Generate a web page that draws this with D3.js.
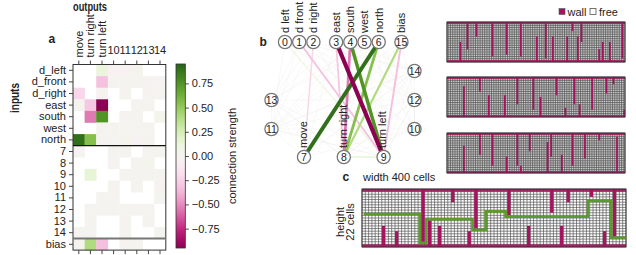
<!DOCTYPE html>
<html><head><meta charset="utf-8">
<script src="https://cdn.jsdelivr.net/npm/d3@7"></script>
<style>
body{margin:0;background:#fff}
svg{display:block}
text{font-family:"Liberation Sans",Arial,Helvetica,sans-serif;fill:#222}
</style>
</head><body>
<svg id="c" width="636" height="255"></svg>
<script>
// ---------- data ----------
const outputs = ["move","turn right","turn left","10","11","12","13","14"];
const inputs = ["d_left","d_front","d_right","east","south","west","north","7","8","9","10","11","12","13","14","bias"];
// connection strengths (row = input, col = output); null = no connection
const weights = [
  [null, null, 0.12, -0.03, -0.03, 0.01, null, null],
  [null, null, -0.32, 0.0, 0.0, 0.01, -0.02, -0.02],
  [-0.22, null, -0.01, null, 0.0, null, -0.01, 0.0],
  [0.01, -0.30, -0.95, null, null, 0.0, 0.0, null],
  [null, -0.55, 0.75, null, -0.02, 0.0, null, 0.03],
  [null, null, 0.0, 0.0, 0.0, 0.0, 0.0, null],
  [0.90, 0.55, 0.0, 0.0, 0.02, -0.02, 0.0, null],
  [0.0, null, null, 0.0, 0.0, null, 0.0, 0.0],
  [null, null, null, -0.02, null, 0.0, 0.03, null],
  [null, 0.15, null, null, 0.0, 0.0, 0.0, 0.0],
  [null, null, null, 0.0, null, 0.0, null, -0.01],
  [null, null, 0.0, 0.0, null, null, null, 0.0],
  [null, 0.0, 0.0, 0.0, 0.0, 0.0, 0.0, null],
  [null, 0.0, null, null, 0.0, null, 0.0, null],
  [0.0, 0.0, null, null, 0.0, null, null, 0.0],
  [0.01, 0.40, -0.33, null, 0.0, 0.0, null, null]
];
const cbTicks = [-0.75, -0.5, -0.25, 0, 0.25, 0.5, 0.75];
const outputNodeIds = [7, 8, 9, 10, 11, 12, 13, 14];
const topNodeIds = [0, 1, 2, 3, 4, 5, 6, 15];
const topNodeLabels = ["d left","d front","d right","east","south","west","north","bias"];
const bottomNodeIds = [7, 8, 9];
const bottomNodeLabels = ["move","turn right","turn left"];
const leftHidden = [13, 11];
const rightHidden = [14, 12, 10];

// mazes: walls = [column, side (t = from top, b = from bottom), length in cells]
const smallCols = 100, mazeRows = 22, bigCols = 80;
const maze1Walls = [[7,"b",11],[11,"t",15],[16,"t",8],[25,"t",19],[33,"t",18],[41,"t",19],[50,"b",14],[55,"t",20],[59,"b",14],[67,"b",14],[70,"t",5],[73,"b",14],[75,"t",11],[85,"b",7],[87,"b",11],[91,"b",11],[98,"t",20]];
const maze2Walls = [[9,"b",17],[18,"t",8],[23,"b",12],[32,"b",12],[39,"t",15],[48,"t",18],[52,"b",11],[61,"t",10],[66,"b",5],[71,"t",15],[74,"b",7],[81,"t",18],[89,"t",9],[93,"t",4],[99,"b",4]];
const maze3Walls = [[9,"b",15],[18,"t",12],[25,"t",18],[33,"b",9],[39,"t",18],[41,"b",4],[46,"t",10],[56,"b",17],[58,"t",13],[64,"b",10],[70,"t",18],[77,"t",14],[85,"t",4],[95,"b",20]];
const bigWalls = [[6,"b",8],[10,"b",6],[18,"t",20],[20,"b",10],[23,"b",8],[27,"t",5],[32,"b",6],[34,"t",15],[44,"t",10],[50,"b",8],[57,"t",9],[60,"b",8],[62,"t",5],[69,"t",3],[73,"b",6],[76,"t",18]];
const bigPath = [[0,9],[17,9],[17,20],[19,20],[19,11],[33,11],[33,15],[37,15],[37,8],[43,8],[43,10],[68,10],[68,4],[75,4],[75,18],[79.6,18]];

// ---------- drawing ----------
const svg = d3.select("#c");
const WALL = "#a5155f";
const color = v => d3.interpolatePiYG((v + 0.95) / 1.9);

// ===== panel a: heatmap =====
const cell = 11.6, hx0 = 73, hy0 = 64.5;
const xB = d3.scaleBand().domain(outputs).range([hx0, hx0 + cell * outputs.length]);
const yB = d3.scaleBand().domain(inputs).range([hy0, hy0 + cell * inputs.length]);
const ga = svg.append("g");
const cells = [];
weights.forEach((row, i) => row.forEach((v, j) => { if (v !== null) cells.push({i, j, v}); }));
ga.selectAll("rect.cell").data(cells).join("rect")
  .attr("x", d => xB(outputs[d.j])).attr("y", d => yB(inputs[d.i]))
  .attr("width", xB.bandwidth() + 0.3).attr("height", yB.bandwidth() + 0.3)
  .attr("fill", d => color(d.v));
ga.append("rect").attr("x", hx0).attr("y", hy0).attr("width", cell * 8).attr("height", cell * 16)
  .attr("fill", "none").attr("stroke", "#333").attr("stroke-width", 1);
ga.append("line").attr("x1", hx0).attr("x2", hx0 + cell * 8)
  .attr("y1", yB("7")).attr("y2", yB("7")).attr("stroke", "#111").attr("stroke-width", 1.3);
ga.append("line").attr("x1", hx0).attr("x2", hx0 + cell * 8)
  .attr("y1", yB("bias")).attr("y2", yB("bias")).attr("stroke", "#777").attr("stroke-width", 2);

const yAx = ga.append("g").attr("transform", `translate(${hx0},0)`)
  .call(d3.axisLeft(yB).tickSize(4).tickPadding(3));
yAx.select(".domain").remove();
yAx.selectAll("text").attr("font-size", 11).attr("font-family", "Liberation Sans, Arial, sans-serif").attr("fill", "#222");
yAx.selectAll("line").attr("stroke", "#444");

const xAxT = ga.append("g").attr("transform", `translate(0,${hy0})`)
  .call(d3.axisTop(xB).tickSize(4).tickFormat(""));
xAxT.select(".domain").remove();
xAxT.selectAll("line").attr("stroke", "#444");
const xAxB = ga.append("g").attr("transform", `translate(0,${hy0 + cell * 16})`)
  .call(d3.axisBottom(xB).tickSize(4).tickFormat(""));
xAxB.select(".domain").remove();
xAxB.selectAll("line").attr("stroke", "#444");

outputs.forEach((o, j) => {
  const cx = xB(o) + xB.bandwidth() / 2;
  if (j < 3) {
    ga.append("text").attr("transform", `translate(${cx},${hy0 - 7}) rotate(-90)`)
      .attr("dy", "0.35em").attr("font-size", 11).text(o);
  } else {
    ga.append("text").attr("x", cx).attr("y", hy0 - 10.5).attr("text-anchor", "middle")
      .attr("font-size", 11).text(o);
  }
});
ga.append("text").attr("x", 73).attr("y", 10.5).attr("font-size", 12).attr("font-weight", "bold")
  .attr("textLength", 34).attr("lengthAdjust", "spacingAndGlyphs").text("outputs");
ga.append("text").attr("transform", "translate(19,113) rotate(-90)").attr("font-size", 12).attr("font-weight", "bold")
  .attr("textLength", 30).attr("lengthAdjust", "spacingAndGlyphs").text("inputs");
ga.append("text").attr("x", 48.5).attr("y", 43).attr("font-size", 12).attr("font-weight", "bold").text("a");

// colorbar
const cbX = 176, cbW = 9.3, cbTop = 64, cbBot = 248;
const cbY = d3.scaleLinear().domain([-0.95, 0.95]).range([cbBot, cbTop]);
const grad = svg.append("defs").append("linearGradient").attr("id", "cbg")
  .attr("x1", 0).attr("x2", 0).attr("y1", 1).attr("y2", 0);
d3.range(0, 1.0001, 0.05).forEach(t => grad.append("stop").attr("offset", t).attr("stop-color", d3.interpolatePiYG(t)));
ga.append("rect").attr("x", cbX).attr("y", cbTop).attr("width", cbW).attr("height", cbBot - cbTop)
  .attr("fill", "url(#cbg)").attr("stroke", "#333").attr("stroke-width", 0.8);
const cbAx = ga.append("g").attr("transform", `translate(${cbX + cbW},0)`)
  .call(d3.axisRight(cbY).tickValues(cbTicks).tickSize(3.5).tickPadding(3).tickFormat(d => d3.format(".2f")(d).replace("-", "\u2212")));
cbAx.select(".domain").remove();
cbAx.selectAll("text").attr("font-size", 11).attr("font-family", "Liberation Sans, Arial, sans-serif").attr("fill", "#222");
cbAx.selectAll("line").attr("stroke", "#444");
ga.append("text").attr("transform", `translate(236,${(cbTop + cbBot) / 2}) rotate(-90)`)
  .attr("text-anchor", "middle").attr("font-size", 11).text("connection strength");

// ===== panel b: network =====
const gb = svg.append("g");
const pos = {};
const topSlots = [0, 1, 2, 3.6, 4.6, 5.6, 6.6, 8.2];
const slotX = d3.scaleLinear().domain([0, 1]).range([285, 299.2]);
topNodeIds.forEach((id, k) => pos[id] = [slotX(topSlots[k]), 42]);
const hidY = d3.scaleLinear().domain([0, 2]).range([71, 129]);
leftHidden.forEach((id, k) => pos[id] = [271.5, hidY(k + 1)]);
rightHidden.forEach((id, k) => pos[id] = [414.5, hidY(k)]);
const botX = d3.scaleLinear().domain([0, 2]).range([304, 383.6]);
bottomNodeIds.forEach((id, k) => pos[id] = [botX(k), 157]);

const edges = [];
weights.forEach((row, i) => row.forEach((v, j) => {
  const s = i === 15 ? 15 : i, t = outputNodeIds[j];
  if (v !== null && s !== t) edges.push({s, t, v});
}));
edges.sort((a, b) => Math.abs(a.v) - Math.abs(b.v));
const wScale = d3.scaleLinear().domain([0, 1]).range([0.7, 4.4]);
gb.selectAll("line.edge").data(edges).join("line")
  .attr("x1", d => pos[d.s][0]).attr("y1", d => pos[d.s][1])
  .attr("x2", d => pos[d.t][0]).attr("y2", d => pos[d.t][1])
  .attr("stroke", d => Math.abs(d.v) < 0.05 ? d3.interpolateRgb(color(d.v), "#ddd")(0.35) : color(d.v))
  .attr("stroke-opacity", d => Math.abs(d.v) < 0.05 ? 0.5 : 1)
  .attr("stroke-width", d => wScale(Math.abs(d.v)));
const nodeArr = Object.keys(pos).map(k => ({id: +k, x: pos[k][0], y: pos[k][1]}));
gb.selectAll("circle.node").data(nodeArr).join("circle")
  .attr("cx", d => d.x).attr("cy", d => d.y).attr("r", 6.6)
  .attr("fill", "#fff").attr("stroke", "#777").attr("stroke-width", 1.3);
gb.selectAll("text.nid").data(nodeArr).join("text")
  .attr("x", d => d.x).attr("y", d => d.y).attr("dy", "0.36em").attr("text-anchor", "middle")
  .attr("font-size", 10.5).text(d => d.id);
topNodeIds.forEach((id, k) => {
  gb.append("text").attr("transform", `translate(${pos[id][0]},${pos[id][1] - 9}) rotate(-90)`)
    .attr("dy", "0.35em").attr("font-size", 11).text(topNodeLabels[k]);
});
bottomNodeIds.forEach((id, k) => {
  gb.append("text").attr("transform", `translate(${pos[id][0] - 1},${pos[id][1] - 9}) rotate(-90)`)
    .attr("dy", "0.35em").attr("font-size", 11).text(bottomNodeLabels[k]);
});
gb.append("text").attr("x", 259.5).attr("y", 46).attr("font-size", 12).attr("font-weight", "bold").text("b");

// ===== mazes =====
function drawMaze(g, x0, y0, w, h, cols, walls, gridCol, gridW) {
  const xs = d3.scaleLinear().domain([0, cols]).range([x0, x0 + w]);
  const ys = d3.scaleLinear().domain([0, mazeRows]).range([y0, y0 + h]);
  g.append("rect").attr("x", x0).attr("y", y0).attr("width", w).attr("height", h).attr("fill", "#fff");
  g.selectAll(null).data(d3.range(0, cols + 1)).join("line")
    .attr("x1", c => xs(c)).attr("x2", c => xs(c)).attr("y1", y0).attr("y2", y0 + h)
    .attr("stroke", gridCol).attr("stroke-width", gridW);
  g.selectAll(null).data(d3.range(0, mazeRows + 1)).join("line")
    .attr("y1", r => ys(r)).attr("y2", r => ys(r)).attr("x1", x0).attr("x2", x0 + w)
    .attr("stroke", gridCol).attr("stroke-width", gridW);
  [0, mazeRows - 1].forEach(r => g.append("rect").attr("x", x0).attr("y", ys(r))
    .attr("width", w).attr("height", ys(1) - ys(0)).attr("fill", WALL).attr("fill-opacity", 0.95));
  g.selectAll(null).data(walls).join("rect")
    .attr("x", d => xs(d[0])).attr("width", xs(1) - xs(0))
    .attr("y", d => d[1] === "t" ? ys(0) : ys(mazeRows - d[2]))
    .attr("height", d => ys(d[2]) - ys(0))
    .attr("fill", WALL);
  g.append("rect").attr("x", x0).attr("y", y0).attr("width", w).attr("height", h)
    .attr("fill", "none").attr("stroke", "#333").attr("stroke-width", 0.9);
  return {xs, ys};
}
const gm = svg.append("g");
drawMaze(gm.append("g"), 447, 22, 178, 40, smallCols, maze1Walls, "#4a4a4a", 0.7);
drawMaze(gm.append("g"), 447, 77, 178, 40, smallCols, maze2Walls, "#4a4a4a", 0.7);
drawMaze(gm.append("g"), 447, 133, 178, 40, smallCols, maze3Walls, "#4a4a4a", 0.7);
const big = drawMaze(gm.append("g"), 362, 189, 264, 58, bigCols, bigWalls, "#4d4d4d", 0.65);
gm.append("path").datum(bigPath)
  .attr("d", d3.line().x(d => big.xs(d[0] + 0.5)).y(d => big.ys(d[1] + 0.5)))
  .attr("fill", "none").attr("stroke", "#5b9b2c").attr("stroke-width", 2.6);

// legend
gm.append("rect").attr("x", 559).attr("y", 8.5).attr("width", 6).attr("height", 6)
  .attr("fill", WALL).attr("stroke", "#555").attr("stroke-width", 0.6);
gm.append("text").attr("x", 567.5).attr("y", 15.5).attr("font-size", 11).text("wall");
gm.append("rect").attr("x", 590).attr("y", 8.5).attr("width", 6).attr("height", 6)
  .attr("fill", "#fff").attr("stroke", "#555").attr("stroke-width", 0.8);
gm.append("text").attr("x", 599).attr("y", 15.5).attr("font-size", 11).text("free");

// panel c labels
gm.append("text").attr("x", 342.5).attr("y", 181).attr("font-size", 12).attr("font-weight", "bold").text("c");
gm.append("text").attr("x", 363).attr("y", 181).attr("font-size", 11).text("width 400 cells");
gm.append("text").attr("transform", "translate(344,222) rotate(-90)").attr("text-anchor", "middle")
  .attr("font-size", 11).text("height");
gm.append("text").attr("transform", "translate(353.5,222) rotate(-90)").attr("text-anchor", "middle")
  .attr("font-size", 11).text("22 cells");
</script>
</body></html>
